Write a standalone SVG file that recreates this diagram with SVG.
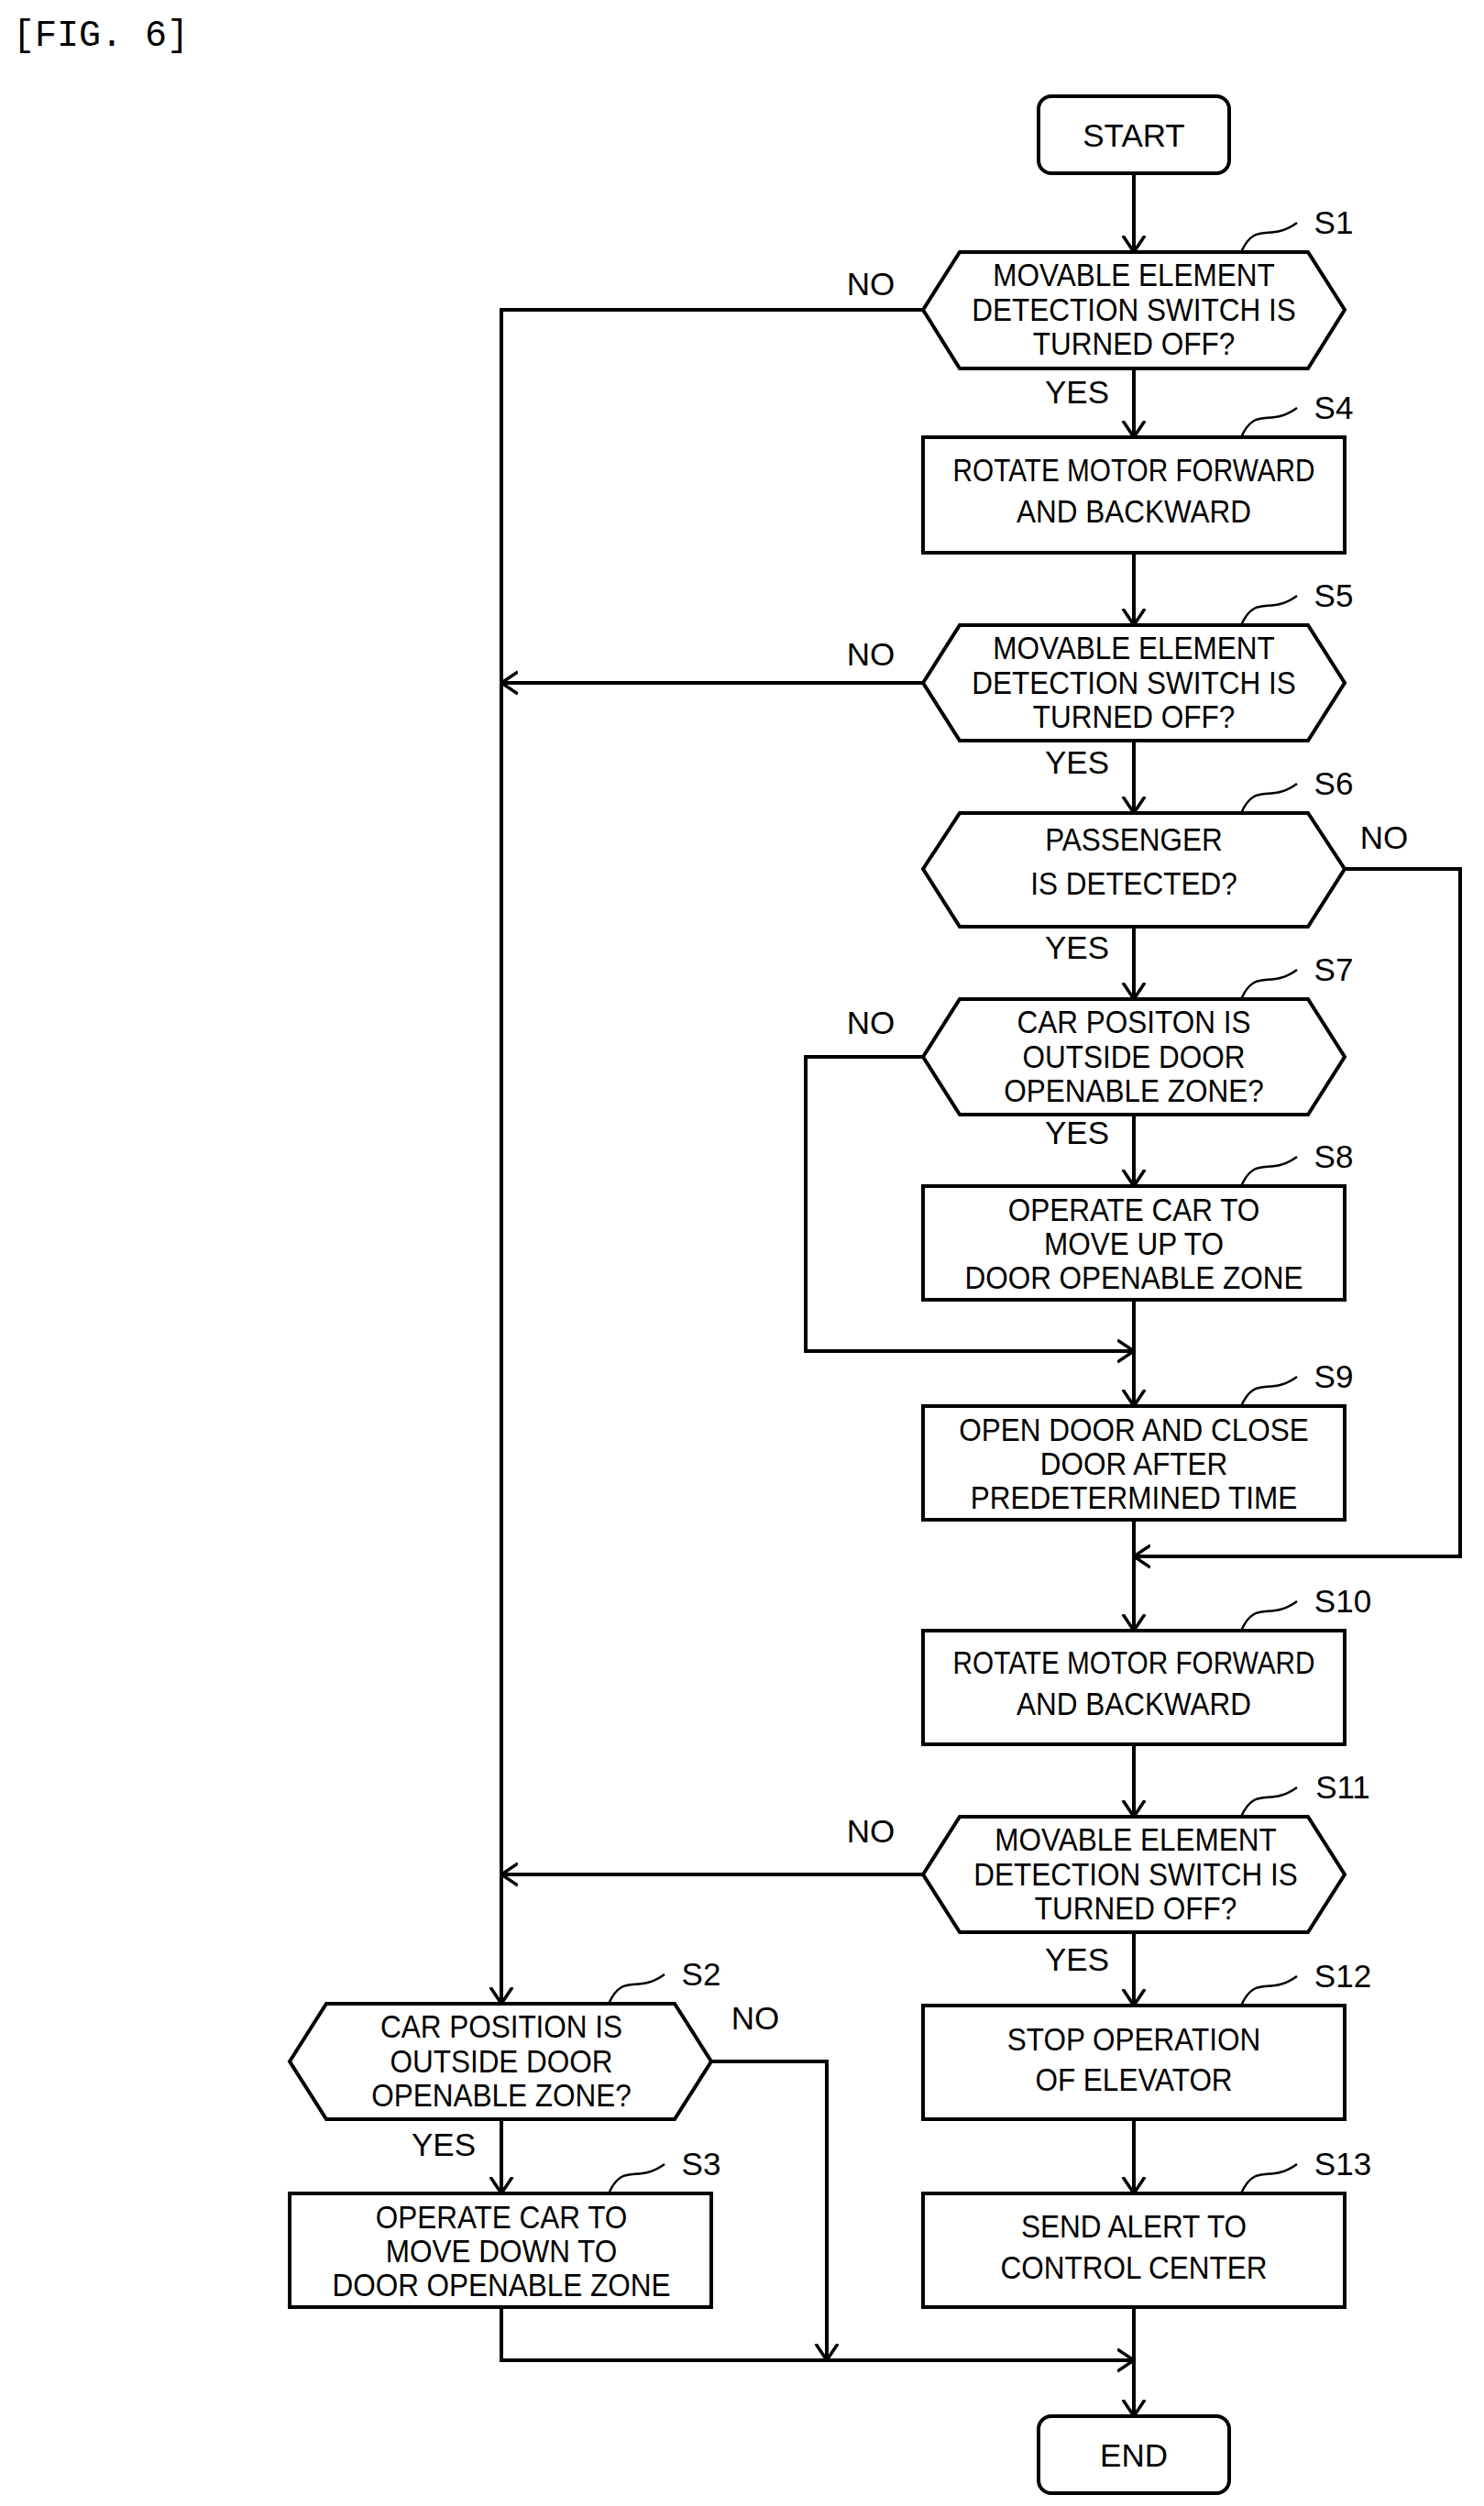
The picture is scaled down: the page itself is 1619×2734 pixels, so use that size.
<svg xmlns="http://www.w3.org/2000/svg" width="1619" height="2734" viewBox="0 0 1619 2734">
<style>
.n{fill:#fff;stroke:#000;stroke-width:4}
.c{fill:none;stroke:#000;stroke-width:4}
.q{fill:none;stroke:#000;stroke-width:2.5}
text{font-family:"Liberation Sans",Arial,sans-serif;font-size:35px;fill:#000;text-anchor:middle}
.fig{font-family:"Liberation Mono",monospace;font-size:40px;text-anchor:start}
</style>
<defs>
<marker id="a" markerWidth="20" markerHeight="30" refX="18" refY="15" orient="auto" markerUnits="userSpaceOnUse" viewBox="0 0 20 30">
<path d="M0,3 L18,15 L0,27" fill="none" stroke="#000" stroke-width="3.5"/>
</marker>
</defs>
<rect width="1619" height="2734" fill="#fff"/>
<text class="fig" x="14" y="50">[FIG. 6]</text>
<g transform="translate(10,0)">
<g id="connectors">
<path class="c" d="M1227,189 V275" marker-end="url(#a)"/>
<path class="c" d="M1227,402 V477" marker-end="url(#a)"/>
<path class="c" d="M1227,603 V682" marker-end="url(#a)"/>
<path class="c" d="M1227,808 V887" marker-end="url(#a)"/>
<path class="c" d="M1227,1011 V1090" marker-end="url(#a)"/>
<path class="c" d="M1227,1216 V1294" marker-end="url(#a)"/>
<path class="c" d="M1227,1418 V1534" marker-end="url(#a)"/>
<path class="c" d="M1227,1658 V1779" marker-end="url(#a)"/>
<path class="c" d="M1227,1903 V1982" marker-end="url(#a)"/>
<path class="c" d="M1227,2108 V2188" marker-end="url(#a)"/>
<path class="c" d="M1227,2312 V2393" marker-end="url(#a)"/>
<path class="c" d="M1227,2517 V2636" marker-end="url(#a)"/>
<path class="c" d="M997,338 H537 V2186" marker-end="url(#a)"/>
<path class="c" d="M997,745 H537" marker-end="url(#a)"/>
<path class="c" d="M997,2045 H537" marker-end="url(#a)"/>
<path class="c" d="M1457,948 H1583 V1698 H1227" marker-end="url(#a)"/>
<path class="c" d="M997,1153 H869 V1474 H1227" marker-end="url(#a)"/>
<path class="c" d="M537,2312 V2393" marker-end="url(#a)"/>
<path class="c" d="M766,2249 H892 V2575" marker-end="url(#a)"/>
<path class="c" d="M537,2517 V2575 H1227" marker-end="url(#a)"/>
<text x="940" y="322">NO</text>
<text x="940" y="726">NO</text>
<text x="1500" y="926">NO</text>
<text x="940" y="1128">NO</text>
<text x="940" y="2010">NO</text>
<text x="814" y="2214">NO</text>
<text x="1165" y="440">YES</text>
<text x="1165" y="844">YES</text>
<text x="1165" y="1046">YES</text>
<text x="1165" y="1248">YES</text>
<text x="1165" y="2150">YES</text>
<text x="474" y="2352">YES</text>
</g>
<g id="start"><rect class="n" x="1123" y="105" width="208" height="84" rx="14"/><text x="1227" y="160">START</text></g>
<g id="s1"><polygon class="n" points="997,338 1037,275 1417,275 1457,338 1417,402 1037,402"/>
<text transform="translate(1227,312) scale(0.9,1)">MOVABLE ELEMENT</text><text transform="translate(1227,350) scale(0.9,1)">DETECTION SWITCH IS</text><text transform="translate(1227,387) scale(0.9,1)">TURNED OFF?</text>
<path class="q" d="M1344,275 C1360,240 1375,265 1405,243"/><text x="1445" y="255">S1</text></g>
<g id="s4"><rect class="n" x="997" y="477" width="460" height="126"/>
<text transform="translate(1227,525) scale(0.85,1)">ROTATE MOTOR FORWARD</text><text transform="translate(1227,570) scale(0.9,1)">AND BACKWARD</text>
<path class="q" d="M1344,477 C1360,442 1375,467 1405,445"/><text x="1445" y="457">S4</text></g>
<g id="s5"><polygon class="n" points="997,745 1037,682 1417,682 1457,745 1417,808 1037,808"/>
<text transform="translate(1227,719) scale(0.9,1)">MOVABLE ELEMENT</text><text transform="translate(1227,757) scale(0.9,1)">DETECTION SWITCH IS</text><text transform="translate(1227,794) scale(0.9,1)">TURNED OFF?</text>
<path class="q" d="M1344,682 C1360,647 1375,672 1405,650"/><text x="1445" y="662">S5</text></g>
<g id="s6"><polygon class="n" points="997,948 1037,887 1417,887 1457,948 1417,1011 1037,1011"/>
<text transform="translate(1227,928) scale(0.9,1)">PASSENGER</text><text transform="translate(1227,976) scale(0.9,1)">IS DETECTED?</text>
<path class="q" d="M1344,887 C1360,852 1375,877 1405,855"/><text x="1445" y="867">S6</text></g>
<g id="s7"><polygon class="n" points="997,1153 1037,1090 1417,1090 1457,1153 1417,1216 1037,1216"/>
<text transform="translate(1227,1127) scale(0.9,1)">CAR POSITON IS</text><text transform="translate(1227,1165) scale(0.9,1)">OUTSIDE DOOR</text><text transform="translate(1227,1202) scale(0.9,1)">OPENABLE ZONE?</text>
<path class="q" d="M1344,1090 C1360,1055 1375,1080 1405,1058"/><text x="1445" y="1070">S7</text></g>
<g id="s8"><rect class="n" x="997" y="1294" width="460" height="124"/>
<text transform="translate(1227,1332) scale(0.9,1)">OPERATE CAR TO</text><text transform="translate(1227,1369) scale(0.9,1)">MOVE UP TO</text><text transform="translate(1227,1406) scale(0.9,1)">DOOR OPENABLE ZONE</text>
<path class="q" d="M1344,1294 C1360,1259 1375,1284 1405,1262"/><text x="1445" y="1274">S8</text></g>
<g id="s9"><rect class="n" x="997" y="1534" width="460" height="124"/>
<text transform="translate(1227,1572) scale(0.9,1)">OPEN DOOR AND CLOSE</text><text transform="translate(1227,1609) scale(0.9,1)">DOOR AFTER</text><text transform="translate(1227,1646) scale(0.9,1)">PREDETERMINED TIME</text>
<path class="q" d="M1344,1534 C1360,1499 1375,1524 1405,1502"/><text x="1445" y="1514">S9</text></g>
<g id="s10"><rect class="n" x="997" y="1779" width="460" height="124"/>
<text transform="translate(1227,1826) scale(0.85,1)">ROTATE MOTOR FORWARD</text><text transform="translate(1227,1871) scale(0.9,1)">AND BACKWARD</text>
<path class="q" d="M1344,1779 C1360,1744 1375,1769 1405,1747"/><text x="1455" y="1759">S10</text></g>
<g id="s11"><polygon class="n" points="997,2045 1037,1982 1417,1982 1457,2045 1417,2108 1037,2108"/>
<text transform="translate(1229,2019) scale(0.9,1)">MOVABLE ELEMENT</text><text transform="translate(1229,2057) scale(0.9,1)">DETECTION SWITCH IS</text><text transform="translate(1229,2094) scale(0.9,1)">TURNED OFF?</text>
<path class="q" d="M1344,1982 C1360,1947 1375,1972 1405,1950"/><text x="1455" y="1962">S11</text></g>
<g id="s12"><rect class="n" x="997" y="2188" width="460" height="124"/>
<text transform="translate(1227,2237) scale(0.9,1)">STOP OPERATION</text><text transform="translate(1227,2281) scale(0.9,1)">OF ELEVATOR</text>
<path class="q" d="M1344,2188 C1360,2153 1375,2178 1405,2156"/><text x="1455" y="2168">S12</text></g>
<g id="s13"><rect class="n" x="997" y="2393" width="460" height="124"/>
<text transform="translate(1227,2441) scale(0.9,1)">SEND ALERT TO</text><text transform="translate(1227,2486) scale(0.9,1)">CONTROL CENTER</text>
<path class="q" d="M1344,2393 C1360,2358 1375,2383 1405,2361"/><text x="1455" y="2373">S13</text></g>
<g id="s2"><polygon class="n" points="306,2249 346,2186 726,2186 766,2249 726,2312 346,2312"/>
<text transform="translate(537,2223) scale(0.9,1)">CAR POSITION IS</text><text transform="translate(537,2261) scale(0.9,1)">OUTSIDE DOOR</text><text transform="translate(537,2298) scale(0.9,1)">OPENABLE ZONE?</text>
<path class="q" d="M654,2186 C670,2151 685,2176 715,2154"/><text x="755" y="2166">S2</text></g>
<g id="s3"><rect class="n" x="306" y="2393" width="460" height="124"/>
<text transform="translate(537,2431) scale(0.9,1)">OPERATE CAR TO</text><text transform="translate(537,2468) scale(0.9,1)">MOVE DOWN TO</text><text transform="translate(537,2505) scale(0.9,1)">DOOR OPENABLE ZONE</text>
<path class="q" d="M654,2393 C670,2358 685,2383 715,2361"/><text x="755" y="2373">S3</text></g>
<g id="end"><rect class="n" x="1123" y="2636" width="208" height="84" rx="14"/><text x="1227" y="2691">END</text></g>
</g>
</svg>
